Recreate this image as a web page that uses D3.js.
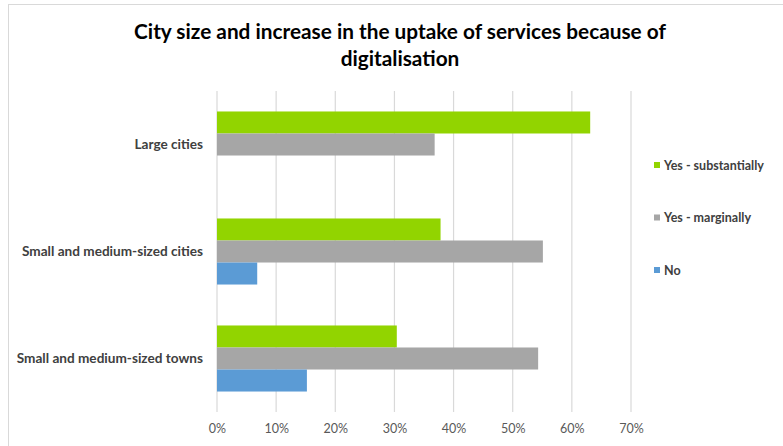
<!DOCTYPE html>
<html>
<head>
<meta charset="utf-8">
<script src="https://cdn.jsdelivr.net/npm/d3@7"></script>
<style>
  body { margin: 0; background: #fff; }
  text { font-family: Lato, "Open Sans", sans-serif; }
</style>
</head>
<body>
<div id="chart"></div>
<script>
const categories = ["Large cities", "Small and medium-sized cities", "Small and medium-sized towns"];
const seriesNames = ["Yes - substantially", "Yes - marginally", "No"];
const seriesColors = ["#92d400", "#a6a6a6", "#5b9bd5"];
const substantially = [0.631, 0.378, 0.304];
const marginally = [0.368, 0.551, 0.543];
const no = [null, 0.068, 0.152];
const xTicks = [0, 0.1, 0.2, 0.3, 0.4, 0.5, 0.6, 0.7];

const width = 783, height = 446;
const margin = { left: 217, right: 152, top: 91, bottom: 34 };

const svg = d3.select('#chart').append('svg')
    .attr('width', width)
    .attr('height', height);

// outer chart border
svg.append('rect')
    .attr('x', 8.5).attr('y', 4.5)
    .attr('width', width).attr('height', height)
    .attr('fill', 'none')
    .attr('stroke', '#d9d9d9');

// title
const title = svg.append('text')
    .attr('text-anchor', 'middle')
    .attr('font-size', 20.8)
    .attr('font-weight', 'bold')
    .attr('fill', '#000');
title.append('tspan').attr('x', 400).attr('y', 39)
    .text('City size and increase in the uptake of services because of');
title.append('tspan').attr('x', 400).attr('y', 66)
    .text('digitalisation');

const x = d3.scaleLinear()
    .domain([0, 0.7])
    .range([margin.left, width - margin.right]);
const y = d3.scaleBand()
    .domain(categories)
    .range([margin.top, height - margin.bottom]);
const inner = d3.scaleBand()
    .domain(seriesNames)
    .range([0, y.bandwidth()])
    .paddingOuter(0.93)
    .paddingInner(0);

// gridlines
svg.append('g').selectAll('line')
    .data(xTicks)
    .enter()
    .append('line')
    .attr('x1', d => x(d)).attr('x2', d => x(d))
    .attr('y1', margin.top).attr('y2', height - margin.bottom)
    .attr('stroke', '#d9d9d9')
    .attr('stroke-width', 1.2);

// bars
const allSeries = [substantially, marginally, no];
seriesNames.forEach((name, si) => {
    svg.append('g').selectAll('rect')
        .data(categories.map((c, i) => ({ c: c, v: allSeries[si][i] })).filter(d => d.v != null))
        .enter()
        .append('rect')
        .attr('x', x(0))
        .attr('y', d => y(d.c) + inner(name))
        .attr('width', d => x(d.v) - x(0))
        .attr('height', inner.bandwidth())
        .attr('fill', seriesColors[si]);
});

// x axis labels
const xAxis = d3.axisBottom(x)
    .tickValues(xTicks)
    .tickFormat(d3.format('.0%'))
    .tickSize(0)
    .tickPadding(12);
const gx = svg.append('g')
    .attr('transform', `translate(0,${height - margin.bottom})`)
    .call(xAxis);
gx.select('.domain').remove();
gx.selectAll('text')
    .attr('font-size', 12.5)
    .attr('fill', '#595959')
    .style('font-family', 'Lato, sans-serif');

// category labels
const yAxis = d3.axisLeft(y).tickSize(0).tickPadding(14);
const gy = svg.append('g')
    .attr('transform', `translate(${margin.left},0)`)
    .call(yAxis);
gy.select('.domain').remove();
gy.selectAll('text')
    .attr('font-size', 13.6)
    .attr('font-weight', 'bold')
    .attr('fill', '#404040')
    .style('font-family', 'Lato, sans-serif');

// legend
const legendY = d3.scalePoint()
    .domain(seriesNames)
    .range([165, 270]);
const legend = svg.append('g').selectAll('g')
    .data(seriesNames)
    .enter()
    .append('g')
    .attr('transform', d => `translate(654,${legendY(d)})`);
legend.append('rect')
    .attr('x', 0).attr('y', -3)
    .attr('width', 6).attr('height', 6)
    .attr('fill', (d, i) => seriesColors[i]);
legend.append('text')
    .attr('x', 10).attr('y', 4.5)
    .attr('font-size', 12.5)
    .attr('font-weight', 'bold')
    .attr('fill', '#404040')
    .text(d => d);
</script>
</body>
</html>
